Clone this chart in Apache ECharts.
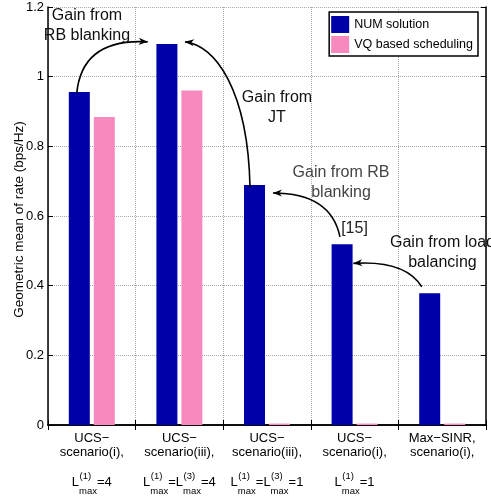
<!DOCTYPE html>
<html>
<head>
<meta charset="utf-8">
<script src="https://cdn.jsdelivr.net/npm/echarts@6/dist/echarts.min.js"></script>
<style>
  html, body { margin: 0; padding: 0; background: #fff; }
  #chart { width: 491px; height: 500px; }
</style>
</head>
<body>
<div id="chart"></div>
<script>
// ---- data ----
const categories = [
  'UCS\u2212\nscenario(i),',
  'UCS\u2212\nscenario(iii),',
  'UCS\u2212\nscenario(iii),',
  'UCS\u2212\nscenario(i),',
  'Max\u2212SINR,\nscenario(i),'
];
// third label line per category, TeX-like: L^{sup}_{sub}
const limitLabels = [
  'L^{(1)}_{max}=4',
  'L^{(1)}_{max}=L^{(3)}_{max}=4',
  'L^{(1)}_{max}=L^{(3)}_{max}=1',
  'L^{(1)}_{max}=1',
  ''
];
const seriesNames = ['NUM solution', 'VQ based scheduling'];
const numSolution = [0.956, 1.094, 0.689, 0.519, 0.378];
const vqScheduling = [0.884, 0.960, 0.004, 0.004, 0.004];
const yMin = 0, yMax = 1.2, yStep = 0.2;
const yAxisTitle = 'Geometric mean of rate (bps/Hz)';

// annotation texts and curved arrows, anchored in data space
// (x in category units, y in axis value)
const noteTexts = ['Gain from\nRB blanking', 'Gain from\nJT', 'Gain from RB\nblanking', '[15]', 'Gain from load\nbalancing'];
const noteAnchors = [[-0.055, 1.147], [2.114, 0.912], [2.845, 0.695], [2.999, 0.563], [4.003, 0.494]];
const noteColors = ['#111', '#111', '#444', '#222', '#111'];
const arrowPaths = [
  [[-0.172, 0.952], [-0.112, 1.111], [0.638, 1.100]],
  [[1.806, 0.683], [1.783, 0.962], [1.406, 1.091], [1.064, 1.100]],
  [[2.833, 0.540], [2.730, 0.666], [2.068, 0.666]],
  [[3.766, 0.397], [3.575, 0.474], [2.985, 0.464]]
];

// ---- styling ----
const FONT = '"Liberation Sans", Arial, Helvetica, sans-serif';
const BLUE = '#0000a8';
const PINK = '#f789bf';
const GRID_LINE = { show: true, lineStyle: { color: '#aaaaaa', type: 'dotted', width: 1 } };
const AXIS_LINE = { show: true, lineStyle: { color: '#000', width: 1.5 } };
const TICK = { show: true, inside: true, length: 5, lineStyle: { color: '#000', width: 1 } };

const chart = echarts.init(document.getElementById('chart'), null, { renderer: 'canvas' });

chart.setOption({
  animation: false,
  backgroundColor: '#fff',
  textStyle: { fontFamily: FONT },
  grid: { left: 48, right: 5, top: 7, bottom: 75, containLabel: false, outerBoundsMode: 'none' },
  legend: {
    data: seriesNames,
    orient: 'vertical',
    right: 13,
    top: 12,
    icon: 'rect',
    itemWidth: 18,
    itemHeight: 17,
    itemGap: 3,
    padding: [4, 5, 3, 2],
    borderColor: '#000',
    borderWidth: 1.5,
    backgroundColor: '#fff',
    selectedMode: false,
    textStyle: { fontFamily: FONT, fontSize: 12.5, color: '#000' }
  },
  xAxis: [
    {
      type: 'category',
      data: categories,
      axisLine: AXIS_LINE,
      axisTick: TICK,
      axisLabel: { interval: 0, color: '#000', fontFamily: FONT, fontSize: 13, lineHeight: 14, margin: 6 },
      splitLine: GRID_LINE
    },
    {
      type: 'category',
      position: 'top',
      data: categories,
      axisLine: AXIS_LINE,
      axisTick: TICK,
      axisLabel: { show: false },
      splitLine: { show: false }
    }
  ],
  yAxis: [
    {
      type: 'value',
      min: yMin, max: yMax, interval: yStep,
      name: yAxisTitle,
      nameLocation: 'middle',
      nameGap: 22,
      nameMoveOverlap: false,
      nameTextStyle: { fontFamily: FONT, fontSize: 13.5, color: '#000', padding: [0, 7, 0, 0] },
      axisLine: AXIS_LINE,
      axisTick: TICK,
      axisLabel: { color: '#000', fontFamily: FONT, fontSize: 13, margin: 4 },
      splitLine: GRID_LINE
    },
    {
      type: 'value',
      position: 'right',
      min: yMin, max: yMax, interval: yStep,
      axisLine: AXIS_LINE,
      axisTick: TICK,
      axisLabel: { show: false },
      splitLine: { show: false }
    }
  ],
  series: [
    { name: seriesNames[0], type: 'bar', data: numSolution, barWidth: 21, barGap: '19%', itemStyle: { color: BLUE } },
    { name: seriesNames[1], type: 'bar', data: vqScheduling, barWidth: 21, itemStyle: { color: PINK } }
  ]
});

// ---- overlay: arrows, notes and the sub/superscripted label line ----
const measureCtx = document.createElement('canvas').getContext('2d');
function textWidth(str, size) {
  measureCtx.font = size + 'px ' + FONT;
  return measureCtx.measureText(str).width;
}

function buildOverlay() {
  const c0 = chart.convertToPixel({ xAxisIndex: 0 }, 0);
  const c1 = chart.convertToPixel({ xAxisIndex: 0 }, 1);
  const step = c1 - c0;
  const toPx = (p) => [c0 + p[0] * step, chart.convertToPixel({ yAxisIndex: 0 }, p[1])];
  const zeroY = chart.convertToPixel({ yAxisIndex: 0 }, 0);
  const els = [];

  // curved arrows
  arrowPaths.forEach((path) => {
    const pts = path.map(toPx);
    const s = pts[0], e = pts[pts.length - 1], c = pts[pts.length - 2];
    const shape = { x1: s[0], y1: s[1], x2: e[0], y2: e[1], cpx1: pts[1][0], cpy1: pts[1][1] };
    if (pts.length === 4) { shape.cpx2 = pts[2][0]; shape.cpy2 = pts[2][1]; }
    els.push({ type: 'bezierCurve', shape, style: { stroke: '#000', lineWidth: 1.6, fill: null }, z: 100 });
    // arrowhead
    let dx = e[0] - c[0], dy = e[1] - c[1];
    const len = Math.hypot(dx, dy); dx /= len; dy /= len;
    const nx = -dy, ny = dx, L = 9, W = 3.6;
    els.push({
      type: 'polygon',
      shape: { points: [
        [e[0], e[1]],
        [e[0] - L * dx + W * nx, e[1] - L * dy + W * ny],
        [e[0] - 0.7 * L * dx, e[1] - 0.7 * L * dy],
        [e[0] - L * dx - W * nx, e[1] - L * dy - W * ny]
      ] },
      style: { fill: '#000' },
      z: 101
    });
  });

  // notes
  noteTexts.forEach((t, i) => {
    const p = toPx(noteAnchors[i]);
    els.push({
      type: 'text', x: p[0], y: p[1], z: 102,
      style: { text: t, fill: noteColors[i], fontFamily: FONT, fontSize: 16, lineHeight: 20, align: 'center', verticalAlign: 'middle' }
    });
  });

  // third label line with stacked super/subscripts
  const BASE = 13, SCRIPT = 9.5;
  limitLabels.forEach((str, i) => {
    if (!str) return;
    const parts = str.split(/(\^\{[^}]*\}_\{[^}]*\})/).filter((s) => s.length);
    const pieces = parts.map((part) => {
      const m = part.match(/^\^\{([^}]*)\}_\{([^}]*)\}$/);
      if (m) {
        const w = Math.max(textWidth(m[1], SCRIPT), textWidth(m[2], SCRIPT));
        return { sup: m[1], sub: m[2], w: w };
      }
      return { base: part, w: textWidth(part, BASE) };
    });
    const total = pieces.reduce((a, p) => a + p.w, 0);
    let x = c0 + i * step - total / 2;
    pieces.forEach((p) => {
      if (p.base !== undefined) {
        els.push({ type: 'text', x, y: zeroY + 57, style: { text: p.base, fill: '#000', fontFamily: FONT, fontSize: BASE, align: 'left', verticalAlign: 'middle' } });
      } else {
        els.push({ type: 'text', x: x + 0.5, y: zeroY + 51, style: { text: p.sup, fill: '#000', fontFamily: FONT, fontSize: SCRIPT, align: 'left', verticalAlign: 'middle' } });
        els.push({ type: 'text', x, y: zeroY + 66, style: { text: p.sub, fill: '#000', fontFamily: FONT, fontSize: SCRIPT, align: 'left', verticalAlign: 'middle' } });
      }
      x += p.w;
    });
  });

  chart.setOption({ graphic: { elements: els } });
}

buildOverlay();
</script>
</body>
</html>
